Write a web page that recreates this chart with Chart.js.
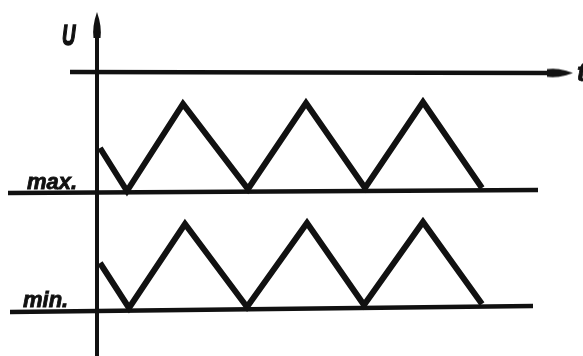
<!DOCTYPE html>
<html>
<head>
<meta charset="utf-8">
<script src="https://cdn.jsdelivr.net/npm/chart.js@4.4.1/dist/chart.umd.min.js"></script>
<style>
  html, body { margin: 0; padding: 0; background: #fff; }
  #wrap { width: 583px; height: 356px; }
</style>
</head>
<body>
<div id="wrap"><canvas id="c" width="583" height="356"></canvas></div>
<script>
// ---- data (t: time units with the U axis at t = 0; U: voltage units) ----
const upperT = [3, 30, 86, 151, 209, 268, 326, 385];
const upperU = [208, 165, 252, 167, 253, 168, 254, 168];
const lowerT = [3, 32, 88, 150, 210, 267, 326, 385];
const lowerU = [93, 48, 132, 49, 133, 51, 134, 52];
const maxLineT = [-89, 441];
const maxLineU = [163, 166];
const minLineT = [-87, 436];
const minLineU = [44, 50];
const topLineT = [-27, 453];
const topLineU = [284, 283];
const axisT = [0, 0];
const axisU = [0, 322];
const labels = { axis: 'U', max: 'max.', min: 'min.', time: 't' };

const INK = '#111';
const pts = (xs, ys) => xs.map((x, i) => ({ x, y: ys[i] }));

// elongated arrowhead as a point-style canvas (points up)
function arrowCanvas(w, h) {
  const c = document.createElement('canvas');
  c.width = w; c.height = h;
  const g = c.getContext('2d');
  g.fillStyle = INK;
  g.beginPath();
  g.moveTo(w / 2, 0);
  g.quadraticCurveTo(w, h * 0.55, w * 0.85, h);
  g.lineTo(w * 0.15, h);
  g.quadraticCurveTo(0, h * 0.55, w / 2, 0);
  g.fill();
  return c;
}
const arrowUp = arrowCanvas(10, 26);
const arrowRight = arrowCanvas(11, 26);

const lineDs = (data, width) => ({
  data, showLine: true, borderColor: INK, borderWidth: width,
  pointRadius: 0, fill: false, tension: 0,
  borderCapStyle: 'butt', borderJoinStyle: 'miter'
});

const labelPlugin = {
  id: 'labels',
  afterDatasetsDraw(chart) {
    const { ctx, scales: { x, y } } = chart;
    ctx.save();
    ctx.fillStyle = INK;
    ctx.strokeStyle = INK;
    ctx.lineWidth = 0.8;
    ctx.textBaseline = 'alphabetic';
    ctx.font = 'italic bold 22px "Liberation Sans", Arial, sans-serif';
    ctx.textAlign = 'left';
    const put = (s, px, py) => { ctx.fillText(s, px, py); ctx.strokeText(s, px, py); };
    put(labels.max, x.getPixelForValue(-70), y.getPixelForValue(maxLineU[0] + 4));
    put(labels.min, x.getPixelForValue(-74), y.getPixelForValue(minLineU[0] + 5));
    // U label (narrow)
    ctx.save();
    ctx.translate(x.getPixelForValue(-35), y.getPixelForValue(311));
    ctx.scale(0.62, 1);
    ctx.lineWidth = 1.6;
    ctx.font = 'italic bold 30px "Liberation Sans", Arial, sans-serif';
    put(labels.axis, 0, 0);
    ctx.restore();
    ctx.font = 'italic bold 26px "Liberation Sans", Arial, sans-serif';
    put(labels.time, x.getPixelForValue(480), y.getPixelForValue(275));
    ctx.restore();
  }
};

new Chart(document.getElementById('c'), {
  type: 'scatter',
  data: {
    datasets: [
      lineDs(pts(axisT, axisU), 4),
      lineDs(pts(topLineT, topLineU), 4.5),
      lineDs(pts(maxLineT, maxLineU), 4.5),
      lineDs(pts(minLineT, minLineU), 4.5),
      lineDs(pts(upperT, upperU), 6),
      lineDs(pts(lowerT, lowerU), 6),
      { data: [{ x: axisT[1], y: axisU[1] + 9 }], pointStyle: arrowUp, pointRotation: 0, pointRadius: 6, showLine: false, clip: false },
      { data: [{ x: topLineT[1] + 10, y: topLineU[1] }], pointStyle: arrowRight, pointRotation: 90, pointRadius: 6, showLine: false, clip: false }
    ]
  },
  options: {
    responsive: false,
    animation: false,
    layout: { padding: 0, autoPadding: false },
    plugins: { legend: { display: false }, tooltip: { enabled: false } },
    scales: {
      x: { type: 'linear', min: -97, max: 486, display: false },
      y: { type: 'linear', min: 0, max: 356, display: false }
    }
  },
  plugins: [labelPlugin]
});
</script>
</body>
</html>
